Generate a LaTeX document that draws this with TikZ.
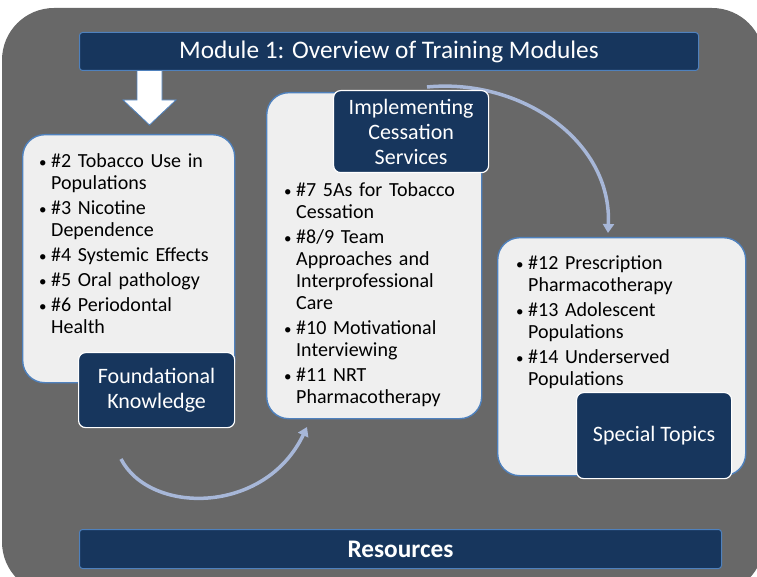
\documentclass[tikz,border=0pt]{standalone}
\usepackage{fontspec}
\setmainfont{Carlito}
\usetikzlibrary{arrows.meta,calc}

\definecolor{modNavy}{HTML}{17365D}
\definecolor{modGray}{HTML}{686868}
\definecolor{modPanel}{HTML}{EFEFEF}
\definecolor{modEdge}{HTML}{4F81BD}
\definecolor{modFlow}{HTML}{A7B7D8}

\newcommand{\topicitem}[1]{\par\noindent\hangindent=12pt\hangafter=1\makebox[12pt][l]{{\fontsize{15}{15}\selectfont\textbullet}}#1\par}

\tikzset{
	panel/.style={draw=modEdge, line width=1.4pt, fill=modPanel, rounded corners=22pt, anchor=north west, inner sep=0pt},
	tag/.style={draw=white, line width=1.2pt, fill=modNavy, rounded corners=7pt, text=white, align=center, anchor=north west, inner sep=0pt, font=\fontsize{22}{25}\selectfont},
	banner/.style={draw=modEdge, line width=1pt, fill=modNavy, text=white, rounded corners=3pt, anchor=north west, inner sep=0pt},
	topics/.style={anchor=north west, text width=#1, inner sep=0pt, font=\fontsize{20}{22}\selectfont\setlength{\parskip}{3pt}\raggedright},
	flow/.style={draw=modFlow, line width=3.5pt, -{Triangle[length=9pt,width=11pt]}},
}

\begin{document}
\begin{tikzpicture}[x=1pt, y=-1pt]
	\useasboundingbox (0,0) rectangle (757,577);
	\clip (0,0) rectangle (757,577);
	% backdrop
	\fill[modGray, rounded corners=52pt] (2,8) rectangle (764,594);
	% arrows between the groups
	\coordinate (f1) at (121,459);
	\coordinate (f2) at (307,427);
	\coordinate (g1) at (427,87);
	\coordinate (g2) at (608,233);
	\draw[flow] (f1) .. controls (150,515) and (265,515) .. (f2);
	\draw[flow] (g1) .. controls (520,78) and (612,140) .. (g2);
	% the three groups
	\node[panel, minimum width=212pt, minimum height=248pt] (found) at (22,134) {};
	\node[panel, minimum width=215pt, minimum height=326pt] (impl) at (266,92) {};
	\node[panel, minimum width=248pt, minimum height=238pt] (spec) at (497,237) {};
	\node[topics=185pt] (foundlist) at (39,142) {
		\topicitem{\#2 Tobacco Use in\newline Populations}
		\topicitem{\#3 Nicotine\newline Dependence}
		\topicitem{\#4 Systemic Effects}
		\topicitem{\#5 Oral pathology}
		\topicitem{\#6 Periodontal\newline Health}
	};
	\node[topics=190pt] (impllist) at (284,171) {
		\topicitem{\#7 5As for Tobacco\newline Cessation}
		\topicitem{\#8/9 Team\newline Approaches and\newline Interprofessional\newline Care}
		\topicitem{\#10 Motivational\newline Interviewing}
		\topicitem{\#11 NRT\newline Pharmacotherapy}
	};
	\node[topics=220pt] (speclist) at (516,244) {
		\topicitem{\#12 Prescription\newline Pharmacotherapy}
		\topicitem{\#13 Adolescent\newline Populations}
		\topicitem{\#14 Underserved\newline Populations}
	};
	\node[tag, minimum width=156pt, minimum height=75pt] (foundtag) at (78,352) {Foundational\\Knowledge};
	\node[tag, minimum width=155pt, minimum height=82pt] (impltag) at (333,90) {Implementing\\Cessation\\Services};
	\node[tag, minimum width=155pt, minimum height=86pt] (spectag) at (576,392) {Special Topics};
	% top and bottom bars
	\node[banner, minimum width=619pt, minimum height=38pt, font=\fontsize{25.3}{28}\selectfont] (title) at (79,32) {Module 1: Overview of Training Modules};
	\node[banner, minimum width=642pt, minimum height=39pt, font=\fontsize{25.3}{28}\selectfont\bfseries] (res) at (79,529) {Resources};
	% title to first group
	\draw[draw=modEdge, line width=0.8pt, fill=white] (137,70.5) -- (162,70.5) -- (162,100) -- (176,100) -- (149.5,125) -- (123,100) -- (137,100) -- cycle;
\end{tikzpicture}
\end{document}
